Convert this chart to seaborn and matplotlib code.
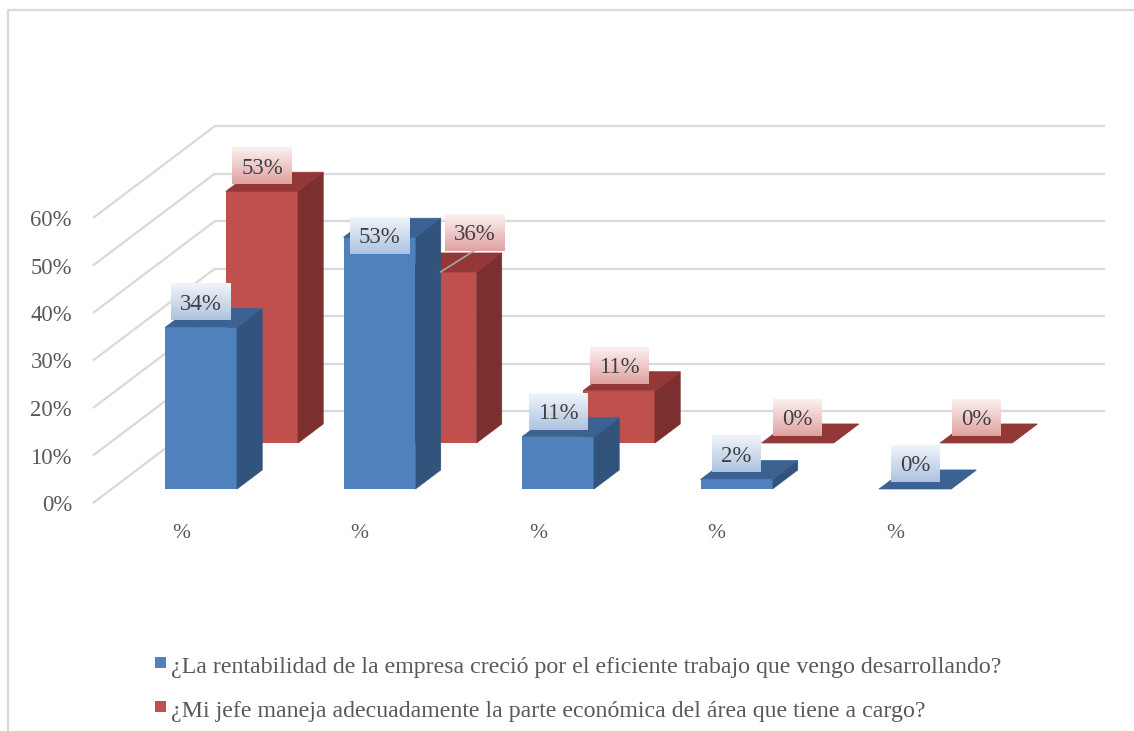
import numpy as np
import pandas as pd
import matplotlib
matplotlib.use("Agg")
import matplotlib.pyplot as plt
import seaborn as sns
from matplotlib.patches import Polygon, Rectangle
from matplotlib.lines import Line2D

# ---------------- data ----------------
categories = ["%", "%", "%", "%", "%"]
series_names = [
    "¿La rentabilidad de la empresa creció por el eficiente trabajo que vengo desarrollando?",
    "¿Mi jefe maneja adecuadamente la parte económica del área que tiene a cargo?",
]
blue_vals = [34, 53, 11, 2, 0]
red_vals = [53, 36, 11, 0, 0]
y_ticks = [0, 10, 20, 30, 40, 50, 60]
y_tick_labels = ["0%", "10%", "20%", "30%", "40%", "50%", "60%"]

# label placement tweaks (as in the original chart)
blue_lab_dx = [0, 0, 0, 0, 0]
blue_lab_dy = [5.4, 0.4, 5.4, 5.4, 5.4]
red_lab_dx = [0, 0.19, 0, 0, 0]
red_lab_dy = [5.4, 8.4, 5.4, 5.4, 5.4]

# ---------------- style ----------------
BLUE_FRONT, BLUE_SIDE, BLUE_TOP = "#4f81bd", "#32537c", "#3b6292"
RED_FRONT, RED_SIDE, RED_TOP = "#c0504d", "#7b2f2e", "#943837"
GRID = "#d9d9d9"
TXT = "#595959"

sns.set_theme(style="white")
plt.rcParams["font.family"] = ["Liberation Serif", "DejaVu Serif"]

W, H = 1134, 731
fig = plt.figure(figsize=(W / 100, H / 100), dpi=100)
ax = fig.add_axes([0, 0, 1, 1])
ax.set_axis_off()

PX_X = 178.5   # pixels per category
PX_Y = 4.75    # pixels per percent
XLIM = (-201 / PX_X, (W - 201) / PX_X)
YLIM = ((489 - H) / PX_Y, 489 / PX_Y)

DEPTH = np.array([122 / PX_X, 92 / PX_Y])      # floor depth vector
floor_front = np.array([-108 / PX_X, -14 / PX_Y])
t_blue, t_red, t_bar = 0.152, 0.652, 0.207
red_shift = (t_red - t_blue) * DEPTH
bar_depth = t_bar * DEPTH
back_left = floor_front + DEPTH
back_right_x = (1105 - 201) / PX_X

# ---------------- walls / gridlines ----------------
for v in y_ticks:
    ax.plot([floor_front[0], back_left[0]], [floor_front[1] + v, back_left[1] + v],
            color=GRID, lw=1.6, zorder=1, solid_capstyle="butt")
    ax.plot([back_left[0], back_right_x], [back_left[1] + v, back_left[1] + v],
            color=GRID, lw=1.6, zorder=1, solid_capstyle="butt")
for v, lab in zip(y_ticks, y_tick_labels):
    ax.text(floor_front[0] - 21 / PX_X, floor_front[1] + v, lab, ha="right",
            va="center_baseline", fontsize=16.3, color=TXT)

# ---------------- bars ----------------
pos = np.arange(len(categories), dtype=float)
df_r = pd.DataFrame({"x": pos + red_shift[0], "v": red_vals})
df_b = pd.DataFrame({"x": pos, "v": blue_vals})


def draw_series(df, front, side, top, z, bottom):
    n0 = len(ax.patches)
    sns.barplot(data=df, x="x", y="v", native_scale=True, width=0.403, color=front,
                saturation=1, bottom=bottom, errorbar=None, linewidth=0, zorder=z, ax=ax)
    patches = list(ax.patches[n0:])
    for p in patches:
        x0, y0, w, h = p.get_x(), p.get_y(), p.get_width(), p.get_height()
        dx, dy = bar_depth
        ax.add_patch(Polygon([(x0 + w, y0), (x0 + w + dx, y0 + dy),
                              (x0 + w + dx, y0 + h + dy), (x0 + w, y0 + h)],
                             closed=True, facecolor=side, edgecolor=side, lw=0.5, zorder=z))
        ax.add_patch(Polygon([(x0, y0 + h), (x0 + w, y0 + h),
                              (x0 + w + dx, y0 + h + dy), (x0 + dx, y0 + h + dy)],
                             closed=True, facecolor=top, edgecolor=top, lw=0.5, zorder=z))
    return patches


red_patches = draw_series(df_r, RED_FRONT, RED_SIDE, RED_TOP, 2, red_shift[1])
blue_patches = draw_series(df_b, BLUE_FRONT, BLUE_SIDE, BLUE_TOP, 3, 0)

# category labels
for i, c in enumerate(categories):
    ax.text(pos[i] - 20 / PX_X, -42 / PX_Y, c, ha="center", va="center_baseline",
            fontsize=15.5, color=TXT)

# ---------------- data labels ----------------
labels = []
for patches, vals, ldx, ldy, grad, z in [
    (red_patches, red_vals, red_lab_dx, red_lab_dy, ("#fcf0f0", "#e0a2a1"), 6),
    (blue_patches, blue_vals, blue_lab_dx, blue_lab_dy, ("#f1f5fb", "#adc3e0"), 8),
]:
    for p, v, dxl, dyl in zip(patches, vals, ldx, ldy):
        cx = p.get_x() + p.get_width() / 2
        top_y = p.get_y() + p.get_height()
        lx, ly = cx + dxl, top_y + dyl
        t = ax.text(lx, ly, f"{v}%", ha="center", va="center_baseline", fontsize=16.5,
                    color="#404040", zorder=z + 1)
        labels.append((t, lx, ly, grad, z))
        if dyl > 6:
            ax.plot([cx, lx], [top_y, ly - 18.5 / PX_Y], color="#a6a6a6", lw=1.2, zorder=z)

ax.set_xlim(*XLIM)
ax.set_ylim(*YLIM)
fig.canvas.draw()
renderer = fig.canvas.get_renderer()
for t, lx, ly, (c_top, c_bot), z in labels:
    bb = t.get_window_extent(renderer)
    half_w = (bb.width / 2 + 9) / PX_X
    half_h = 18.5 / PX_Y
    ct = np.array(matplotlib.colors.to_rgb(c_top))
    cb = np.array(matplotlib.colors.to_rgb(c_bot))
    g = np.linspace(0, 1, 64)[:, None, None]
    img = ct * (1 - g) + cb * g
    ax.imshow(img, extent=(lx - half_w, lx + half_w, ly - half_h, ly + half_h),
              aspect="auto", origin="upper", interpolation="bilinear", zorder=z)

ax.set_xlim(*XLIM)
ax.set_ylim(*YLIM)

# ---------------- legend ----------------
legend_rows_px = [662.5, 706.5]
for name, col, yc in zip(series_names, [BLUE_FRONT, RED_FRONT], legend_rows_px):
    fig.add_artist(Rectangle((154.5 / W, 1 - (yc + 5.5) / H), 11 / W, 11 / H,
                             transform=fig.transFigure, facecolor=col, edgecolor="none"))
    fig.text(171 / W, 1 - (yc + 10) / H, name, ha="left", va="baseline",
             fontsize=17.2, color=TXT)

# chart border
fig.add_artist(Line2D([8 / W, 8 / W], [0, 1 - 10 / H], transform=fig.transFigure,
                      color=GRID, lw=1.6))
fig.add_artist(Line2D([8 / W, 1], [1 - 10 / H, 1 - 10 / H], transform=fig.transFigure,
                      color=GRID, lw=1.6))

fig.savefig("out.png", dpi=100, facecolor="white")
